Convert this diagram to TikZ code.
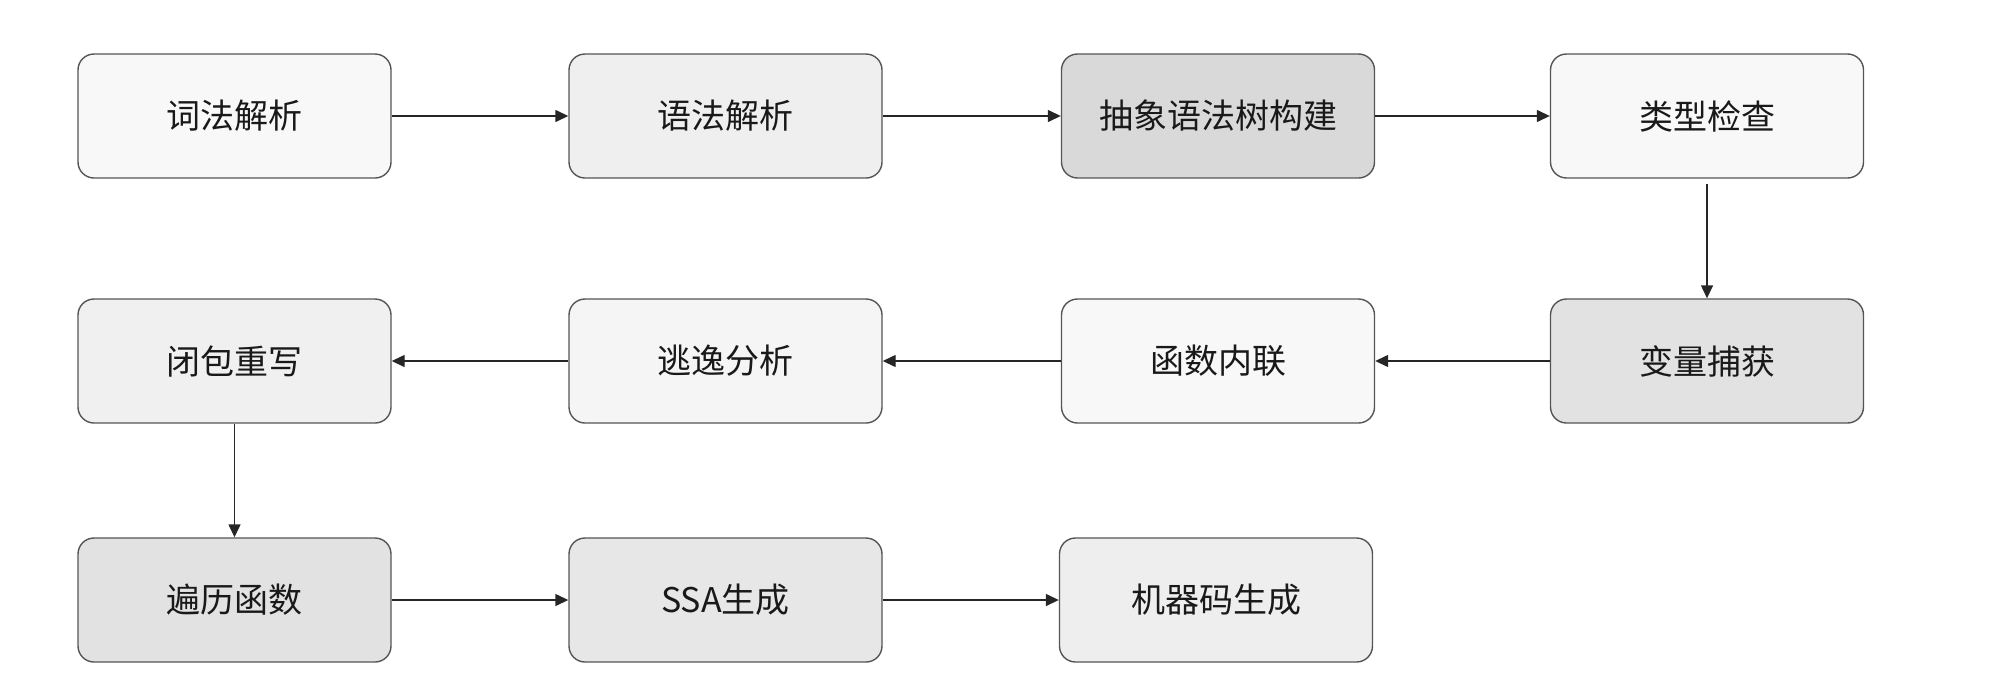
\documentclass[tikz,border=0pt]{standalone}
\usepackage{fontspec}
\newfontfamily\cjk{Noto Sans CJK SC}
\usetikzlibrary{arrows.meta}
\definecolor{edge}{HTML}{555555}
\definecolor{fA}{HTML}{F8F8F8}
\definecolor{fB}{HTML}{EFEFEF}
\definecolor{fC}{HTML}{D9D9D9}
\definecolor{fD}{HTML}{F0F0F0}
\definecolor{fE}{HTML}{F5F5F5}
\definecolor{fF}{HTML}{E2E2E2}
\definecolor{fG}{HTML}{E7E7E7}
\definecolor{fH}{HTML}{EEEEEE}
\tikzset{
  stage/.style={draw=edge, line width=1.4pt, rounded corners=16pt,
    minimum width=313pt, minimum height=124pt, inner sep=0pt,
    font=\cjk\fontsize{34}{40}\selectfont, text=black!90},
  flow/.style={draw=black!85, line width=1.4pt,
    -{Triangle[length=13pt,width=12pt]}}
}
\begin{document}
\begin{tikzpicture}[x=1pt,y=-1pt]
\useasboundingbox (0,0) rectangle (2010,694);
% first row
\node[stage, fill=fA] (lex)   at (234.5,116) {词法解析};
\node[stage, fill=fB] (parse) at (725.5,116) {语法解析};
\node[stage, fill=fC] (ast)   at (1218,116)  {抽象语法树构建};
\node[stage, fill=fA] (type)  at (1707,116)  {类型检查};
% second row (right to left)
\node[stage, fill=fD] (clos)  at (234.5,361) {闭包重写};
\node[stage, fill=fE] (esc)   at (725.5,361) {逃逸分析};
\node[stage, fill=fA] (inl)   at (1218,361)  {函数内联};
\node[stage, fill=fF] (cap)   at (1707,361)  {变量捕获};
% third row
\node[stage, fill=fF] (walk)  at (234.5,600) {遍历函数};
\node[stage, fill=fG] (ssa)   at (725.5,600) {SSA生成};
\node[stage, fill=fH] (mach)  at (1216,600)  {机器码生成};
% connectors
\draw[flow] (lex) -- (parse);
\draw[flow] (parse) -- (ast);
\draw[flow] (ast) -- (type);
\draw[flow] ([yshift=-5pt]type.south) -- (cap.north);
\draw[flow] (cap) -- (inl);
\draw[flow] (inl) -- (esc);
\draw[flow] (esc) -- (clos);
\draw[flow] (clos.south) -- (walk.north);
\draw[flow] (walk) -- (ssa);
\draw[flow] (ssa) -- (mach);
\end{tikzpicture}
\end{document}
